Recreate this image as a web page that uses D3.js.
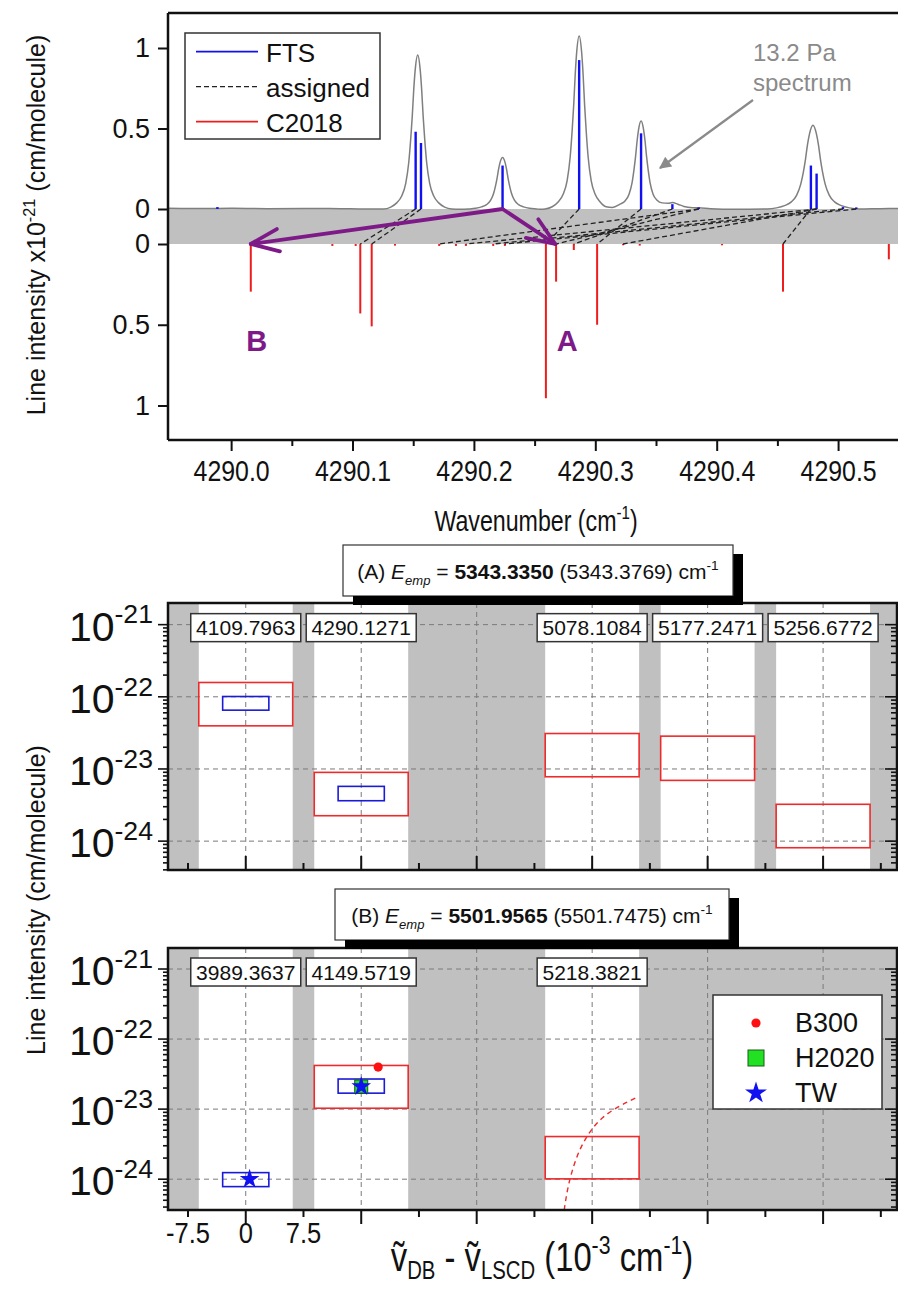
<!DOCTYPE html>
<html><head><meta charset="utf-8">
<script src="https://cdn.jsdelivr.net/npm/d3@7"></script>
<style>
html,body{margin:0;padding:0;background:#fff;}
svg{display:block;font-family:"Liberation Sans",Arial,sans-serif;}
</style></head><body>
<svg id="c" width="898" height="1293"></svg>
<script>
// ================= DATA =================
// Top panel: 13.2 Pa spectrum (wavenumber, intensity x1e-21)
const spectrumWn = [4289.948,4289.975,4290.000,4290.030,4290.060,4290.090,4290.110,
 4290.1257,4290.1315,4290.1364,4290.1405,4290.1438,4290.1463,4290.1479,4290.1492,4290.1504,4290.1516,4290.1537,
 4290.1558,4290.1570,4290.1582,4290.1595,4290.1611,4290.1636,4290.1669,4290.1710,4290.1759,4290.1817,
 4290.1887,
 4290.1956,4290.2014,4290.2063,4290.2104,4290.2137,4290.2162,4290.2178,4290.2191,4290.2203,4290.2215,4290.2236,
 4290.2257,4290.2269,4290.2281,4290.2294,4290.2310,4290.2335,4290.2368,4290.2409,4290.2458,4290.2516,
 4290.2551,
 4290.2587,4290.2645,4290.2694,4290.2735,4290.2768,4290.2793,4290.2809,4290.2822,4290.2834,4290.2846,4290.2867,
 4290.2888,4290.2900,4290.2912,4290.2925,4290.2941,4290.2966,4290.2999,4290.3040,4290.3089,
 4290.3140,
 4290.3204,4290.3245,4290.3278,4290.3303,4290.3319,4290.3332,4290.3344,4290.3356,4290.3377,
 4290.3398,4290.3410,4290.3422,4290.3435,4290.3451,4290.3476,4290.3509,4290.3550,4290.3600,4290.3635,4290.3680,4290.3730,4290.3800,4290.3852,4290.3950,4290.4150,
 4290.4415,4290.4493,4290.4559,4290.4615,4290.4659,4290.4693,4290.4715,4290.4732,4290.4748,4290.4765,4290.4793,
 4290.4821,4290.4838,4290.4854,4290.4871,4290.4893,4290.4927,4290.4971,4290.5027,4290.5093,4290.5171,4290.5350,4290.5510];
const spectrumI = [0.004,0.003,0.004,0.002,0.003,0.002,0.000,
 0.000,0.012,0.038,0.081,0.158,0.287,0.431,0.574,0.737,0.861,0.957,
 0.861,0.737,0.574,0.431,0.287,0.158,0.081,0.038,0.012,0.000,
 -0.002,
 0.000,0.004,0.013,0.027,0.053,0.096,0.144,0.192,0.246,0.288,0.320,
 0.288,0.246,0.192,0.144,0.096,0.053,0.027,0.013,0.004,0.000,
 -0.002,
 0.000,0.014,0.043,0.091,0.177,0.323,0.484,0.645,0.828,0.968,1.075,
 0.968,0.828,0.645,0.484,0.323,0.177,0.091,0.043,0.014,
 0.010,
 0.030,0.050,0.092,0.164,0.246,0.328,0.421,0.492,0.547,
 0.492,0.421,0.328,0.246,0.164,0.092,0.055,0.038,0.035,0.040,0.030,0.016,0.008,0.007,0.002,-0.002,
 0.000,0.007,0.021,0.044,0.086,0.156,0.234,0.312,0.400,0.468,0.520,
 0.468,0.400,0.312,0.234,0.156,0.086,0.044,0.021,0.007,0.000,0.002,0.003];

// FTS line list (up)
const ftsWn = [4289.9887,4290.1520,4290.1564,4290.2236,4290.2867,4290.3377,4290.3635,4290.3852,4290.4776,4290.4823,4290.5040,4290.5150];
const ftsI  = [0.012,0.48,0.41,0.27,0.925,0.47,0.03,0.01,0.27,0.22,0.012,0.01];

// C2018 line list (down)
const c2018Wn = [4290.0162,4290.0834,4290.1026,4290.1064,4290.1158,4290.1350,4290.1714,4290.1852,4290.1934,4290.2159,4290.2255,
 4290.2593,4290.2677,4290.2823,4290.3015,4290.3229,4290.3366,4290.4044,4290.4546,4290.5418];
const c2018I  = [0.295,0.012,0.012,0.43,0.51,0.01,0.012,0.012,0.012,0.012,0.012,
 0.955,0.233,0.037,0.50,0.008,0.01,0.008,0.295,0.095];

// assigned pairs (FTS wavenumber -> C2018 wavenumber)
const assignedFrom = [4290.1520,4290.1564,4290.2867,4290.3377,4290.4776,4290.3635,4290.3852,4290.4823,4290.5040,4290.5150,4290.3852,4290.4823];
const assignedTo   = [4290.1064,4290.1158,4290.2593,4290.3015,4290.4546,4290.2823,4290.1714,4290.1934,4290.2159,4290.2255,4290.2677,4290.3229];

const topXMajor = [4290.0,4290.1,4290.2,4290.3,4290.4,4290.5];
const topXMinor = [4290.05,4290.15,4290.25,4290.35,4290.45,4290.55];
const topYTicks = [0,0.5,1];

// purple arrows: from FTS line to C2018 lines
const arrowFrom = 4290.2236;
const arrowTo = [4290.0162,4290.2670];
const arrowLabels = ["B","A"];

// Panel A
const aLabels = ["4109.7963","4290.1271","5078.1084","5177.2471","5256.6772"];
const aPos    = [0,15,45,60,75];
const aRedHi  = [1.58e-22,8.97e-24,3.10e-23,2.85e-23,3.24e-24];
const aRedLo  = [3.96e-23,2.25e-24,7.80e-24,6.95e-24,8.10e-25];
const aBluePos = [0,15];
const aBlueHi  = [1.01e-22,5.74e-24];
const aBlueLo  = [6.53e-23,3.63e-24];

// Panel B
const bLabels = ["3989.3637","4149.5719","5218.3821"];
const bPos    = [0,15,45];
const bRedPos = [15,45];
const bRedHi  = [4.20e-23,4.06e-24];
const bRedLo  = [1.03e-23,1.01e-24];
const bBluePos = [0,15];
const bBlueHi  = [1.24e-24,2.69e-23];
const bBlueLo  = [7.83e-25,1.69e-23];
const b300X = [17.2], b300Y = [3.98e-23];
const h2020X = [15], h2020Y = [2.10e-23];
const twX = [0.5,15], twY = [1.0e-24,2.10e-23];
const curveX = [41.37,41.76,42.41,43.32,44.62,46.30,48.51,50.71];
const curveY = [3.64e-25,7.03e-25,1.36e-24,2.62e-24,4.74e-24,7.76e-24,1.11e-23,1.45e-23];

const lowXMajor = [0,15,30,45,60,75];
const lowXMinor = [-7.5,7.5,22.5,37.5,52.5,67.5,82.5];
const lowXLabels = [-7.5,0,7.5];

// ================= DRAW =================
const svg = d3.select("#c");
const FONT = '"Liberation Sans", Arial, sans-serif';
const INK = "#111";
const GRAY = "#c0c0c0";
const PURPLE = "#7d1a88";
const NX = 0.83; // horizontal squeeze of the condensed axis texts

function richText(sel, segs, size, subShift){
  let shift = 0;
  const ss = subShift === undefined ? 0.32 : subShift;
  segs.forEach(([t, st]) => {
    const ts = sel.append("tspan").text(t);
    let target = 0, fs = size;
    if (st === "sub" || st === "isub") { target = size*ss; fs = size*0.62; }
    if (st === "sup") { target = -size*0.42; fs = size*0.65; }
    ts.attr("dy", target - shift).attr("font-size", fs);
    shift = target;
    if (st === "i" || st === "isub") ts.attr("font-style","italic");
    if (st === "b") ts.attr("font-weight","bold");
  });
  return sel;
}
function squeezed(x, y, sx, anchor){
  return svg.append("g").attr("transform",`translate(${x},${y}) scale(${sx},1)`)
    .append("text").attr("x",0).attr("y",0).attr("text-anchor",anchor).attr("fill",INK).attr("font-family",FONT);
}

// ---------- TOP PANEL ----------
const tp = {l:168, r:900, t:13, b:440};
const xT = d3.scaleLinear().domain([4289.948, 4290.551]).range([tp.l, tp.r]);
const yU = d3.scaleLinear().domain([0,1]).range([209,48]);
const yD = d3.scaleLinear().domain([0,1]).range([244,405.5]);

const defs = svg.append("defs");
defs.append("clipPath").attr("id","clipTop").append("rect")
  .attr("x",tp.l).attr("y",tp.t).attr("width",tp.r-tp.l).attr("height",tp.b-tp.t);
defs.append("marker").attr("id","grayHead").attr("viewBox","0 0 10 10").attr("refX",9).attr("refY",5)
  .attr("markerWidth",17).attr("markerHeight",12).attr("markerUnits","userSpaceOnUse")
  .attr("orient","auto").append("path").attr("d","M0,0 L10,5 L0,10 Z").attr("fill","#8a8a8a");

const gT = svg.append("g").attr("clip-path","url(#clipTop)");
gT.append("rect").attr("x",tp.l).attr("y",yU(0)).attr("width",tp.r-tp.l).attr("height",yD(0)-yU(0)).attr("fill",GRAY);

const spec = d3.zip(spectrumWn, spectrumI);
gT.append("path").datum(spec)
  .attr("d", d3.line().x(d=>xT(d[0])).y(d=>yU(d[1])).curve(d3.curveMonotoneX))
  .attr("fill","none").attr("stroke","#7f7f7f").attr("stroke-width",1.5);

gT.selectAll("line.fts").data(d3.zip(ftsWn, ftsI)).join("line").attr("class","fts")
  .attr("x1",d=>xT(d[0])).attr("x2",d=>xT(d[0])).attr("y1",yU(0)).attr("y2",d=>yU(d[1]))
  .attr("stroke","#1010f0").attr("stroke-width",2.4);

gT.selectAll("line.c18").data(d3.zip(c2018Wn, c2018I)).join("line").attr("class","c18")
  .attr("x1",d=>xT(d[0])).attr("x2",d=>xT(d[0])).attr("y1",yD(0)).attr("y2",d=>yD(d[1]))
  .attr("stroke","#ee1c1c").attr("stroke-width",2);

gT.selectAll("line.asg").data(d3.zip(assignedFrom, assignedTo)).join("line").attr("class","asg")
  .attr("x1",d=>xT(d[0])).attr("y1",yU(0)).attr("x2",d=>xT(d[1])).attr("y2",yD(0))
  .attr("stroke","#222").attr("stroke-width",1.3).attr("stroke-dasharray","5,3");

// purple arrows
arrowTo.forEach((wn,i)=>{
  const x0 = xT(arrowFrom), y0 = yU(0), x1 = xT(wn), y1 = yD(0);
  const ang = Math.atan2(y0-y1, x0-x1);
  const L = 30, da = 22*Math.PI/180;
  const g = gT.append("g").attr("stroke",PURPLE).attr("stroke-width",3.8).attr("stroke-linecap","round").attr("stroke-linejoin","round").attr("fill","none");
  g.append("line").attr("x1",x0).attr("y1",y0).attr("x2",x1).attr("y2",y1);
  g.append("path").attr("d",`M${x1+L*Math.cos(ang+da)},${y1+L*Math.sin(ang+da)} L${x1},${y1} L${x1+L*Math.cos(ang-da)},${y1+L*Math.sin(ang-da)}`);
  svg.append("text").attr("x", x1 + (i===0?6:12)).attr("y", 351).attr("text-anchor","middle")
    .attr("font-size",29).attr("font-weight","bold").attr("fill",PURPLE).text(arrowLabels[i]);
});

// annotation
svg.append("text").attr("x",753).attr("y",61).attr("font-size",24).attr("fill","#8a8a8a").text("13.2 Pa");
svg.append("text").attr("x",753).attr("y",91).attr("font-size",24).attr("fill","#8a8a8a").text("spectrum");
svg.append("line").attr("x1",753).attr("y1",100).attr("x2",660).attr("y2",168)
  .attr("stroke","#8a8a8a").attr("stroke-width",2.2).attr("marker-end","url(#grayHead)");

// legend
const lg = svg.append("g");
lg.append("rect").attr("x",185).attr("y",33).attr("width",195).attr("height",106).attr("fill","#fff").attr("stroke","#333").attr("stroke-width",1.5);
[["FTS","#1010f0",null],["assigned","#222","5,3"],["C2018","#ee1c1c",null]].forEach((e,i)=>{
  const y = 51.7 + i*35;
  lg.append("line").attr("x1",196).attr("x2",258).attr("y1",y).attr("y2",y).attr("stroke",e[1]).attr("stroke-width",e[2]?1.3:1.8).attr("stroke-dasharray",e[2]);
  lg.append("text").attr("x",266).attr("y",y+10).attr("font-size",26).attr("fill",INK).text(e[0]);
});

// frame
const fr = svg.append("g").attr("stroke",INK).attr("stroke-width",2.5);
fr.append("line").attr("x1",tp.l).attr("x2",tp.l).attr("y1",tp.t).attr("y2",tp.b);
fr.append("line").attr("x1",tp.l).attr("x2",tp.r).attr("y1",tp.t).attr("y2",tp.t);
fr.append("line").attr("x1",tp.l).attr("x2",tp.r).attr("y1",tp.b).attr("y2",tp.b);

// axes
const axMaj = svg.append("g").attr("transform",`translate(0,${tp.b})`)
  .call(d3.axisBottom(xT).tickValues(topXMajor).tickSize(11).tickPadding(9).tickFormat(d3.format(".1f")));
const axMin = svg.append("g").attr("transform",`translate(0,${tp.b})`)
  .call(d3.axisBottom(xT).tickValues(topXMinor).tickSize(6).tickFormat(""));
[axMaj, axMin].forEach(a=>{ a.select(".domain").remove(); a.selectAll("line").attr("stroke",INK).attr("stroke-width",2); });
axMaj.selectAll("text").attr("font-family",FONT).attr("font-size",30).attr("fill",INK).attr("transform",`scale(${NX},1)`);

[yU,yD].forEach(sc=>{
  const a = svg.append("g").attr("transform",`translate(${tp.l},0)`)
    .call(d3.axisLeft(sc).tickValues(topYTicks).tickSize(10).tickPadding(8).tickFormat(d=>String(d)));
  a.select(".domain").remove();
  a.selectAll("line").attr("stroke",INK).attr("stroke-width",2);
  a.selectAll("text").attr("font-family",FONT).attr("font-size",27).attr("fill",INK);
});

richText(squeezed(536,531,0.8,"middle"), [["Wavenumber (cm","n"],["-1","sup"],[")","n"]], 29);

richText(svg.append("text").attr("transform","translate(45,225) rotate(-90)").attr("text-anchor","middle").attr("fill",INK),
  [["Line intensity  x10","n"],["-21","sup"],[" (cm/molecule)","n"]], 25);

// ---------- LOWER PANELS ----------
const xC = d3.scaleLinear().domain([-10.1, 84.6]).range([168, 897]);
const HALF_RED = 6.1, HALF_BLUE = 3;

function logTicks(dom){
  const out=[];
  for(let e=-26;e<=-20;e++) for(let k=1;k<10;k++){ const v=k*Math.pow(10,e); if(v>=dom[0]&&v<=dom[1]) out.push({v, major:k===1, e}); }
  return out;
}

function panel(cfg){
  const {t,b,id} = cfg;
  const y = d3.scaleLog().domain(cfg.dom).range([b,t]);
  const L = 168, R = 897;
  defs.append("clipPath").attr("id",id).append("rect").attr("x",L).attr("y",t).attr("width",R-L).attr("height",b-t);
  const g = svg.append("g").attr("clip-path",`url(#${id})`);
  g.append("rect").attr("x",L).attr("y",t).attr("width",R-L).attr("height",b-t).attr("fill",GRAY);
  g.selectAll("rect.col").data(cfg.pos).join("rect").attr("class","col")
    .attr("x",d=>xC(d-HALF_RED)).attr("width",d=>xC(d+HALF_RED)-xC(d-HALF_RED)).attr("y",t).attr("height",b-t).attr("fill","#fff");
  const decs = logTicks(cfg.dom).filter(d=>d.major).map(d=>d.v);
  g.selectAll("line.hg").data(decs).join("line").attr("x1",L).attr("x2",R).attr("y1",d=>y(d)).attr("y2",d=>y(d))
    .attr("stroke","#7a7a7a").attr("stroke-width",1).attr("stroke-dasharray","5,4");
  g.selectAll("line.vg").data(lowXMajor).join("line").attr("x1",d=>xC(d)).attr("x2",d=>xC(d)).attr("y1",t).attr("y2",b)
    .attr("stroke","#7a7a7a").attr("stroke-width",1).attr("stroke-dasharray","5,4");
  g.selectAll("rect.red").data(d3.zip(cfg.redPos,cfg.redHi,cfg.redLo)).join("rect")
    .attr("x",d=>xC(d[0]-HALF_RED)).attr("width",d=>xC(d[0]+HALF_RED)-xC(d[0]-HALF_RED))
    .attr("y",d=>y(d[1])).attr("height",d=>y(d[2])-y(d[1])).attr("fill","none").attr("stroke","#ee2a2a").attr("stroke-width",1.6);
  g.selectAll("rect.blue").data(d3.zip(cfg.bluePos,cfg.blueHi,cfg.blueLo)).join("rect")
    .attr("x",d=>xC(d[0]-HALF_BLUE)).attr("width",d=>xC(d[0]+HALF_BLUE)-xC(d[0]-HALF_BLUE))
    .attr("y",d=>y(d[1])).attr("height",d=>y(d[2])-y(d[1])).attr("fill","none").attr("stroke","#1a1ad8").attr("stroke-width",1.6);
  if (cfg.extra) cfg.extra(g, y);
  const ly = y(1e-21) + 3;
  cfg.pos.forEach((p,i)=>{
    const cx = xC(p);
    g.append("rect").attr("x",cx-55).attr("y",ly-14).attr("width",110).attr("height",28).attr("fill","#fff").attr("stroke","#333").attr("stroke-width",1.5);
    g.append("text").attr("x",cx).attr("y",ly+7.5).attr("text-anchor","middle").attr("font-size",21).attr("fill",INK).text(cfg.labels[i]);
  });
  svg.append("rect").attr("x",L).attr("y",t).attr("width",R-L).attr("height",b-t).attr("fill","none").attr("stroke",INK).attr("stroke-width",2.5);
  const yt = logTicks(cfg.dom);
  svg.selectAll(null).data(yt).join("line").attr("x1",L).attr("x2",d=>L-(d.major?10:5)).attr("y1",d=>y(d.v)).attr("y2",d=>y(d.v)).attr("stroke",INK).attr("stroke-width",1.6);
  svg.selectAll(null).data(yt).join("line").attr("x1",R).attr("x2",d=>R-(d.major?12:6)).attr("y1",d=>y(d.v)).attr("y2",d=>y(d.v)).attr("stroke",INK).attr("stroke-width",1.6);
  yt.filter(d=>d.major).forEach(d=>{
    richText(svg.append("text").attr("x",153).attr("y",y(d.v)+16).attr("text-anchor","end").attr("fill",INK),
      [["10","n"],[String(d.e),"sup"]], 41);
  });
  const dir = cfg.outward ? 1 : -1;
  svg.selectAll(null).data(lowXMajor.map(v=>({v,m:true})).concat(lowXMinor.map(v=>({v,m:false})))).join("line")
    .attr("x1",d=>xC(d.v)).attr("x2",d=>xC(d.v)).attr("y1",b).attr("y2",d=>b+dir*(d.m?14:7)).attr("stroke",INK).attr("stroke-width",2);
  return y;
}

function titleBox(x,y,w,h,segs){
  svg.append("rect").attr("x",x+10).attr("y",y+9).attr("width",w).attr("height",h).attr("fill","#000");
  svg.append("rect").attr("x",x).attr("y",y).attr("width",w).attr("height",h).attr("fill","#fff").attr("stroke","#333").attr("stroke-width",1.2);
  richText(svg.append("text").attr("x",x+w/2).attr("y",y+h/2+8).attr("text-anchor","middle").attr("fill",INK), segs, 21);
}

// Panel A
titleBox(343,545,390,51,[["(A) ","n"],["E","i"],["emp","isub"],[" = ","n"],["5343.3350","b"],[" (5343.3769) cm","n"],["-1","sup"]]);
panel({id:"clipA", t:603, b:870, dom:[Math.pow(10,-24.40),Math.pow(10,-20.70)], pos:aPos, labels:aLabels,
  redPos:aPos, redHi:aRedHi, redLo:aRedLo, bluePos:aBluePos, blueHi:aBlueHi, blueLo:aBlueLo, outward:false});
svg.append("rect").attr("x",353).attr("y",596).attr("width",390).attr("height",9).attr("fill","#000");

// Panel B
titleBox(335,889,394,51,[["(B) ","n"],["E","i"],["emp","isub"],[" = ","n"],["5501.9565","b"],[" (5501.7475) cm","n"],["-1","sup"]]);
panel({id:"clipB", t:948, b:1210, dom:[Math.pow(10,-24.44),Math.pow(10,-20.70)], pos:bPos, labels:bLabels,
  redPos:bRedPos, redHi:bRedHi, redLo:bRedLo, bluePos:bBluePos, blueHi:bBlueHi, blueLo:bBlueLo, outward:true,
  extra:(g,y)=>{
    g.append("path").datum(d3.zip(curveX,curveY)).attr("d",d3.line().x(d=>xC(d[0])).y(d=>y(d[1])).curve(d3.curveBasis))
      .attr("fill","none").attr("stroke","#ee2a2a").attr("stroke-width",1.4).attr("stroke-dasharray","5,4");
    g.selectAll("circle.b300").data(d3.zip(b300X,b300Y)).join("circle").attr("cx",d=>xC(d[0])).attr("cy",d=>y(d[1])).attr("r",4.6).attr("fill","#ff1010");
    g.selectAll("rect.h20").data(d3.zip(h2020X,h2020Y)).join("rect").attr("x",d=>xC(d[0])-6.5).attr("y",d=>y(d[1])-6.5).attr("width",13).attr("height",13)
      .attr("fill","#22e022").attr("stroke","#1a5a1a").attr("stroke-width",1);
    g.selectAll("path.tw").data(d3.zip(twX,twY)).join("path").attr("transform",d=>`translate(${xC(d[0])},${y(d[1])})`)
      .attr("d",d3.symbol(d3.symbolStar).size(120)).attr("fill","#1010f0");
  }});
svg.append("rect").attr("x",345).attr("y",940).attr("width",394).attr("height",9).attr("fill","#000");

// bottom x tick labels
lowXLabels.forEach(v=>{ squeezed(xC(v), 1243, 0.85, "middle").attr("font-size",30).text(String(v)); });

// legend (panel B)
const lb = svg.append("g");
lb.append("rect").attr("x",713).attr("y",995).attr("width",169).attr("height",114).attr("fill","#fff").attr("stroke","#333").attr("stroke-width",1.5);
lb.append("circle").attr("cx",756).attr("cy",1023).attr("r",4.6).attr("fill","#ff1010");
lb.append("rect").attr("x",748).attr("y",1050).attr("width",16).attr("height",16).attr("fill","#22e022").attr("stroke","#1a5a1a");
lb.append("path").attr("transform","translate(756,1093)").attr("d",d3.symbol(d3.symbolStar).size(150)).attr("fill","#1010f0");
["B300","H2020","TW"].forEach((t,i)=>lb.append("text").attr("x",795).attr("y",1032+i*35).attr("font-size",27).attr("fill",INK).text(t));

// y label lower
svg.append("text").attr("transform","translate(45,900) rotate(-90)").attr("text-anchor","middle").attr("font-size",25).attr("fill",INK)
  .text("Line intensity  (cm/molecule)");

// bottom x title
richText(squeezed(542,1271,0.8,"middle"),
  [["\u1E7D","n"],["DB","sub"],[" - ","n"],["\u1E7D","n"],["LSCD","sub"],[" (10","n"],["-3","sup"],[" cm","n"],["-1","sup"],[")","n"]], 41, 0.2);
</script>
</body></html>
